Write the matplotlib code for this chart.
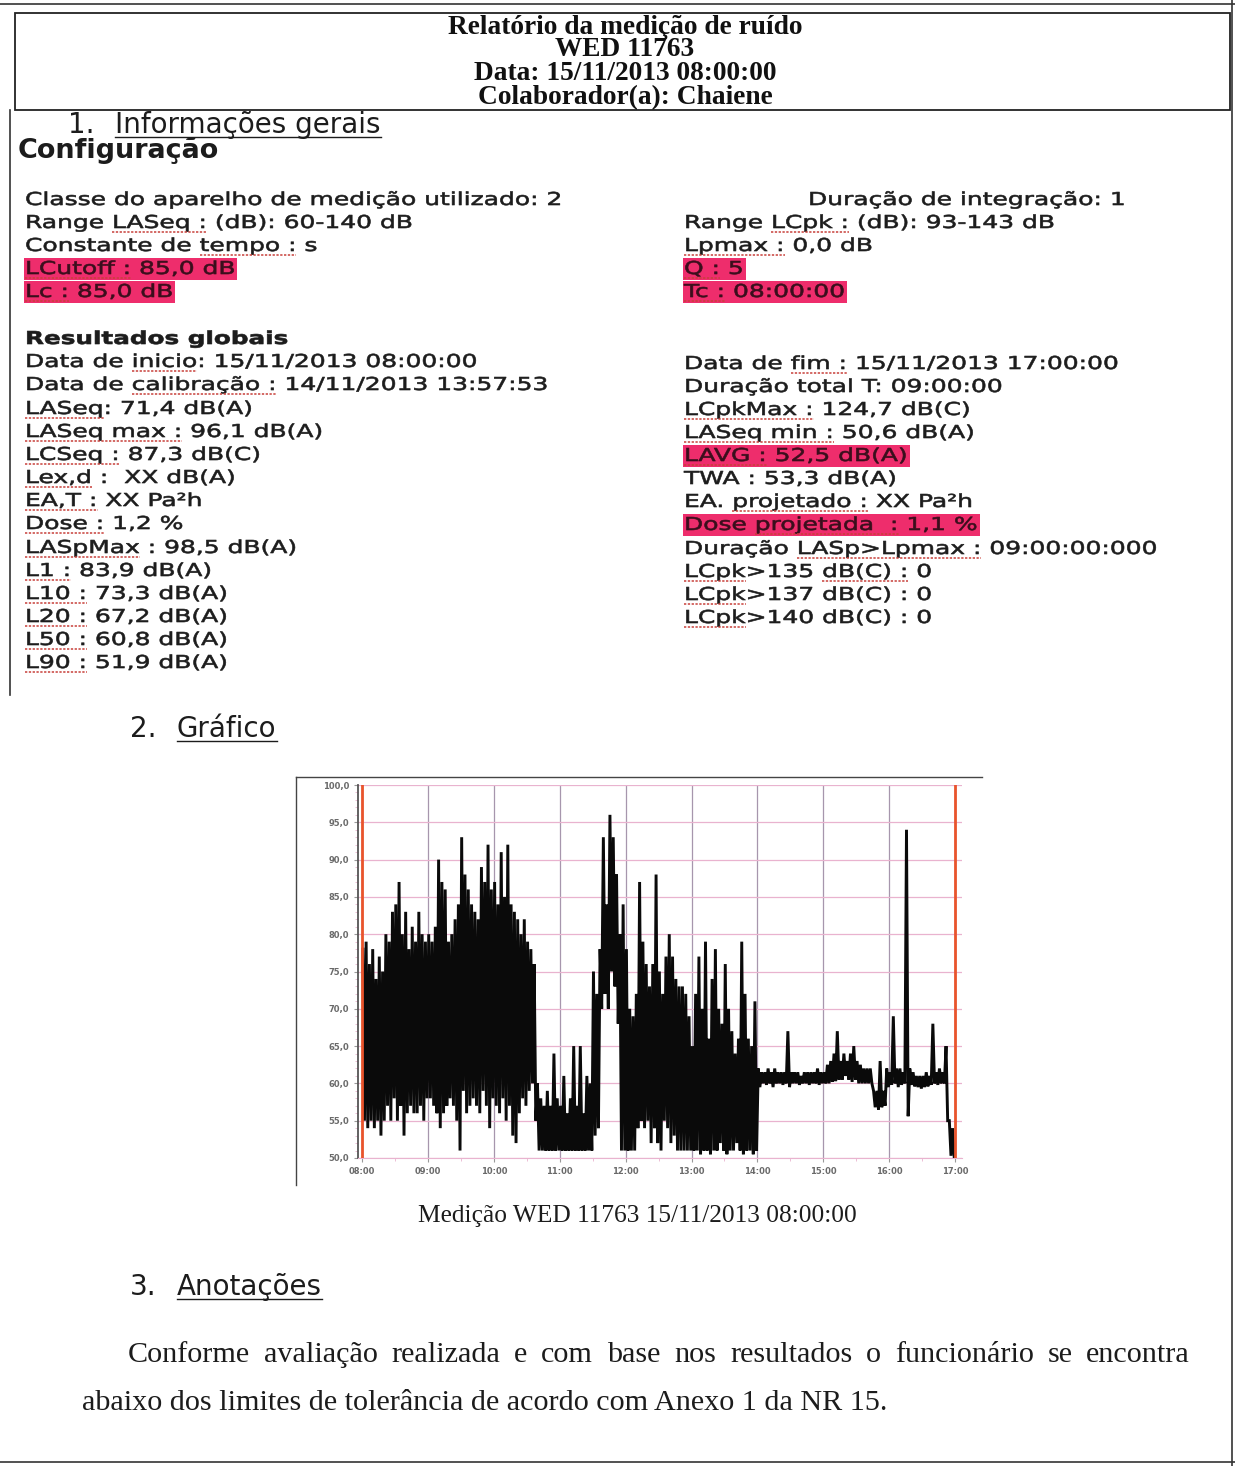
import re
import matplotlib
matplotlib.use('Agg')
import matplotlib.pyplot as plt
from matplotlib.font_manager import FontProperties
from matplotlib.patches import Rectangle
from matplotlib.patheffects import AbstractPathEffect
from matplotlib.transforms import Affine2D

W, H = 1235, 1466

# LAS envelope per 3-minute step (max / min, dB(A)), 08:00 -> 17:00
hi_08 = [78, 79, 76, 78, 74, 77, 75, 80, 79, 83, 84, 87, 80, 83, 78, 81, 79, 83, 80, 79]
lo_08 = [55, 54, 55, 54, 55, 53, 55, 57, 55, 58, 55, 57, 53, 56, 57, 56, 56, 57, 55, 58]
hi_09 = [80, 79, 81, 90, 87, 86, 79, 80, 82, 84, 93, 88, 86, 84, 83, 82, 89, 87, 92, 86]
lo_09 = [58, 57, 56, 54, 56, 57, 58, 57, 55, 51, 59, 56, 57, 58, 57, 56, 59, 57, 54, 58]
hi_10 = [87, 84, 91, 85, 92, 84, 83, 82, 80, 82, 79, 78, 76, 60, 58, 57, 59, 57, 64, 58]
lo_10 = [57, 56, 58, 55, 57, 53, 52, 56, 58, 57, 59, 60, 55, 51, 51, 51, 51, 51, 51, 51]
hi_11 = [57, 61, 56, 58, 65, 57, 65, 56, 61, 60, 75, 72, 78, 93, 84, 96, 93, 88, 80, 84]
lo_11 = [51, 51, 51, 51, 51, 51, 51, 51, 51, 51, 53, 54, 70, 72, 70, 75, 73, 68, 51, 51]
hi_12 = [78, 70, 69, 72, 87, 79, 76, 73, 76, 88, 75, 72, 77, 80, 77, 74, 73, 73, 72, 69]
lo_12 = [51, 51, 51, 54, 55, 54, 55, 52, 54, 52, 51, 55, 54, 52, 53, 51, 51, 51, 51, 51]
hi_13 = [65, 72, 77, 70, 79, 66, 74, 78, 70, 68, 76, 70, 67, 64, 66, 79, 72, 66, 65, 71]
lo_13 = [51, 51, 50.5, 51, 51, 50.5, 51, 51, 52, 51, 50.5, 51, 51, 52, 51, 50.5, 51, 51, 50.5, 51]
hi_14 = [62, 61.5, 61.5, 62, 61.5, 62, 61.5, 61.5, 61.5, 67, 61.5, 61.5, 61.5, 61, 61.5, 61.5, 61.5, 61.5, 62, 61.5]
lo_14 = [59.5, 60, 59.8, 60, 59.5, 60, 60, 59.8, 60, 59.5, 60, 60, 59.8, 60, 60, 59.8, 60, 60, 59.8, 60]
hi_15 = [61.5, 62.5, 63, 64, 67, 63, 64, 63, 64, 65, 63, 62.5, 62, 62, 62, 59, 59, 63, 59, 62]
lo_15 = [60, 60, 60.2, 60.3, 60.5, 60.5, 61, 60.5, 60.2, 60.5, 60, 60, 60, 60, 60, 56.8, 56.5, 56.8, 57, 59.5]
hi_16 = [61.5, 69, 62, 62, 61.5, 94, 62, 61.5, 61, 61, 61, 61.5, 61, 68, 61.5, 62, 61.5, 65, 55, 54]
lo_16 = [59.8, 60, 59.5, 59.8, 60, 55.6, 59.8, 59.6, 59.5, 59.3, 59.5, 59.6, 59.8, 60, 59.8, 60, 60, 55, 50.3, 50]

hi = hi_08 + hi_09 + hi_10 + hi_11 + hi_12 + hi_13 + hi_14 + hi_15 + hi_16
lo = lo_08 + lo_09 + lo_10 + lo_11 + lo_12 + lo_13 + lo_14 + lo_15 + lo_16

y_ticks = [50, 55, 60, 65, 70, 75, 80, 85, 90, 95, 100]
y_ticklabels = ['50,0', '55,0', '60,0', '65,0', '70,0', '75,0', '80,0', '85,0', '90,0', '95,0', '100,0']
x_ticklabels = ['08:00', '09:00', '10:00', '11:00', '12:00', '13:00', '14:00', '15:00', '16:00', '17:00']

title_lines = ['Relatório da medição de ruído', 'WED 11763', 'Data: 15/11/2013 08:00:00', 'Colaborador(a): Chaiene']

cfg_left = ['Classe do aparelho de medição utilizado: 2', 'Range [LASeq :] (dB): 60-140 dB',
            'Constante de [tempo :] s', '[LCutoff :] 85,0 dB', '[Lc :] 85,0 dB']
cfg_right = ['Duração de integração: 1', 'Range [LCpk :] (dB): 93-143 dB', '[Lpmax :] 0,0 dB',
             '[Q :] 5', '[Tc :] 08:00:00']
res_left = ['Data de [inicio]: 15/11/2013 08:00:00', 'Data de [calibração :] 14/11/2013 13:57:53',
            '[LASeq]: 71,4 dB(A)', '[LASeq max :] 96,1 dB(A)', '[LCSeq :] 87,3 dB(C)',
            '[Lex,d] :  XX dB(A)', '[EA,T :] XX Pa²h', '[Dose :] 1,2 %', '[LASpMax] : 98,5 dB(A)',
            '[L1 :] 83,9 dB(A)', '[L10 :] 73,3 dB(A)', '[L20 :] 67,2 dB(A)', '[L50 :] 60,8 dB(A)',
            '[L90 :] 51,9 dB(A)']
res_right = ['Data de [fim :] 15/11/2013 17:00:00', 'Duração total T: 09:00:00', '[LCpkMax :] 124,7 dB(C)',
             '[LASeq min :] 50,6 dB(A)', '[LAVG :] 52,5 dB(A)', 'TWA : 53,3 dB(A)',
             'EA. [projetado :] XX Pa²h', 'Dose [projetada  :] 1,1 %', 'Duração [LASp>Lpmax :] 09:00:00:000',
             '[LCpk]>135 [dB(C) :] 0', '[LCpk]>137 dB(C) : 0', '[LCpk]>140 dB(C) : 0']

caption = 'Medição WED 11763 15/11/2013 08:00:00'
para1 = 'Conforme avaliação realizada e com base nos resultados o funcionário se encontra'
para2 = 'abaixo dos limites de tolerância de acordo com Anexo 1 da NR 15.'

fig = plt.figure(figsize=(W / 100, H / 100), dpi=100)
page = fig.add_axes([0, 0, 1, 1])
page.set_xlim(0, W)
page.set_ylim(H, 0)
page.axis('off')
r = fig.canvas.get_renderer()

INK = '#1c1c1c'
PINK = '#ee2d6c'


class Wide(AbstractPathEffect):
    # the scanned report has its Verdana text stretched sideways (and a bit heavier)
    def __init__(self, sx, x0, lw=0.45):
        super().__init__()
        self.sx, self.x0, self.lw = sx, x0, lw

    def draw_path(self, renderer, gc, tpath, affine, rgbFace=None):
        a = affine + Affine2D().translate(-self.x0, 0).scale(self.sx, 1).translate(self.x0, 0)
        gc0 = renderer.new_gc()
        gc0.copy_properties(gc)
        gc0.set_linewidth(self.lw)
        gc0.set_foreground(rgbFace)
        renderer.draw_path(gc0, tpath, a, rgbFace)
        gc0.restore()


def tw(s, fp):
    return r.get_text_width_height_descent(s, fp, ismath=False)[0]


def fitted(s, family, target, weight='normal'):
    fp = FontProperties(family=family, size=10, weight=weight)
    return FontProperties(family=family, size=10 * target / tw(s, fp), weight=weight)


def wide_text(x, y, s, fp, sx, **kw):
    xd = page.transData.transform((x, y))[0]
    return page.text(x, y, s, fontproperties=fp, va='center', path_effects=[Wide(sx, xd)], **kw)


fp = FontProperties(family='DejaVu Sans', size=12.8)
SX = 538 / tw(cfg_left[0], fp)


def line(x, y, s, hl=False):
    plain = s.replace('[', '').replace(']', '')
    if hl:
        page.add_patch(Rectangle((x - 1, y - 11), SX * tw(plain, fp) + 3, 22, color=PINK, lw=0, zorder=1))
    wide_text(x, y, plain, fp, SX, color='#3a0e1c' if hl else INK, zorder=2)
    pos = 0
    for p in re.split(r'(\[[^\]]*\])', s):
        if p.startswith('['):
            seg = p[1:-1]
            x0 = x + SX * tw(plain[:pos], fp)
            x1 = x0 + SX * tw(seg, fp)
            page.plot([x0, x1], [y + 9, y + 9], color='#c8403a', lw=1.1, ls=(0, (1.5, 1)), zorder=3)
            pos += len(seg)
        else:
            pos += len(p)


# page frame and title box
page.plot([0, W], [4, 4], color='#333', lw=1.2)
page.plot([1232, 1232], [0, H], color='#333', lw=1.2)
page.plot([10, 10], [110, 695], color='#333', lw=1.2)
page.plot([0, W], [1462, 1462], color='#333', lw=1.2)
page.add_patch(Rectangle((15, 13), 1215, 97, fill=False, ec='#222', lw=1.3))

fp_title = fitted(title_lines[0], 'Liberation Serif', 356, 'bold')
for s, y in zip(title_lines, [27, 50, 74, 98]):
    page.text(625, y, s, fontproperties=fp_title, color='#111', ha='center', va='center')

# section headings
fp_head = fitted('Informações gerais', 'DejaVu Sans', 265)
for num, name, x0, y in [('1.', 'Informações gerais', 68, 125), ('2.', 'Gráfico', 130, 729),
                         ('3.', 'Anotações', 130, 1287)]:
    page.text(x0, y, num, fontproperties=fp_head, color=INK, va='center')
    xs = x0 + 47
    page.text(xs, y, name, fontproperties=fp_head, color=INK, va='center')
    page.plot([xs, xs + tw(name, fp_head)], [y + 12, y + 12], color=INK, lw=1)

page.text(18, 151, 'Configuração', fontproperties=fitted('Configuração', 'DejaVu Sans', 202, 'bold'),
          color=INK, va='center')
fp_b = FontProperties(family='DejaVu Sans', size=12.8, weight='bold')
wide_text(25, 339, 'Resultados globais', fp_b, 263 / tw('Resultados globais', fp_b), color=INK)

for i, (s, y) in enumerate(zip(cfg_left, [200, 223, 246, 269, 292])):
    line(25, y, s, hl=i >= 3)
for i, (s, y) in enumerate(zip(cfg_right, [200, 223, 246, 269, 292])):
    line(808 if i == 0 else 684, y, s, hl=i >= 3)
for s, y in zip(res_left, [362, 385, 409, 432, 455, 478, 501, 524, 548, 571, 594, 617, 640, 663]):
    line(25, y, s)
for i, (s, y) in enumerate(zip(res_right, [364, 387, 410, 433, 456, 479, 502, 525, 549, 572, 595, 618])):
    line(684, y, s, hl=i in (4, 7))

# chart picture frame
page.plot([296, 296], [777, 1185], color='#444', lw=1)
page.plot([296, 982], [777, 777], color='#444', lw=1)

x0px, x1px, ytop, ybot = 358, 962, 785, 1158
ax = fig.add_axes([x0px / W, 1 - ybot / H, (x1px - x0px) / W, (ybot - ytop) / H])
px_h = 65.9
ax.set_xlim((x0px - 362) / px_h, (x1px - 362) / px_h)
ax.set_ylim(50, 100)

t, v = [], []
for j in range(len(hi)):
    t += [j * 0.05 + 0.0125, j * 0.05 + 0.0375]
    v += [hi[j], lo[j]]
ax.plot(t, v, color='#0a0a0a', lw=2.1, zorder=3, solid_joinstyle='miter')

ax.set_yticks(y_ticks)
ax.set_yticklabels(y_ticklabels)
ax.set_xticks(range(10))
ax.set_xticklabels(x_ticklabels)
ax.set_xticks([k + 0.5 for k in range(9)], minor=True)
ax.set_yticks(range(50, 101), minor=True)
ax.grid(axis='x', color='#a796ad', lw=0.9)
ax.grid(axis='y', color='#e9b3cf', lw=0.9)
ax.axvline(0, color='#e9542c', lw=2, zorder=4)
ax.axvline(9, color='#e9542c', lw=2, zorder=4)
for sp in ['top', 'right']:
    ax.spines[sp].set_visible(False)
ax.spines['left'].set_color('#555')
ax.spines['left'].set_linewidth(1.3)
ax.spines['bottom'].set_color('#e9b3cf')
ax.tick_params(axis='both', which='major', labelsize=6, labelcolor='#6a6a6a', length=3, color='#999')
ax.tick_params(axis='both', which='minor', length=2, color='#e9b3cf')
for lab in ax.get_xticklabels() + ax.get_yticklabels():
    lab.set_fontweight('bold')

page.text(637, 1216, caption, fontproperties=fitted(caption, 'Liberation Serif', 438), color=INK,
          ha='center', va='center')

# justified paragraph
fp_par = fitted(para2, 'Liberation Serif', 808)
words = para1.split()
gap = (1190 - 128 - sum(tw(w, fp_par) for w in words)) / (len(words) - 1)
x = 128
for w in words:
    page.text(x, 1355, w, fontproperties=fp_par, color=INK, va='center')
    x += tw(w, fp_par) + gap
page.text(82, 1403, para2, fontproperties=fp_par, color=INK, va='center')

fig.savefig('out.png', dpi=100)
